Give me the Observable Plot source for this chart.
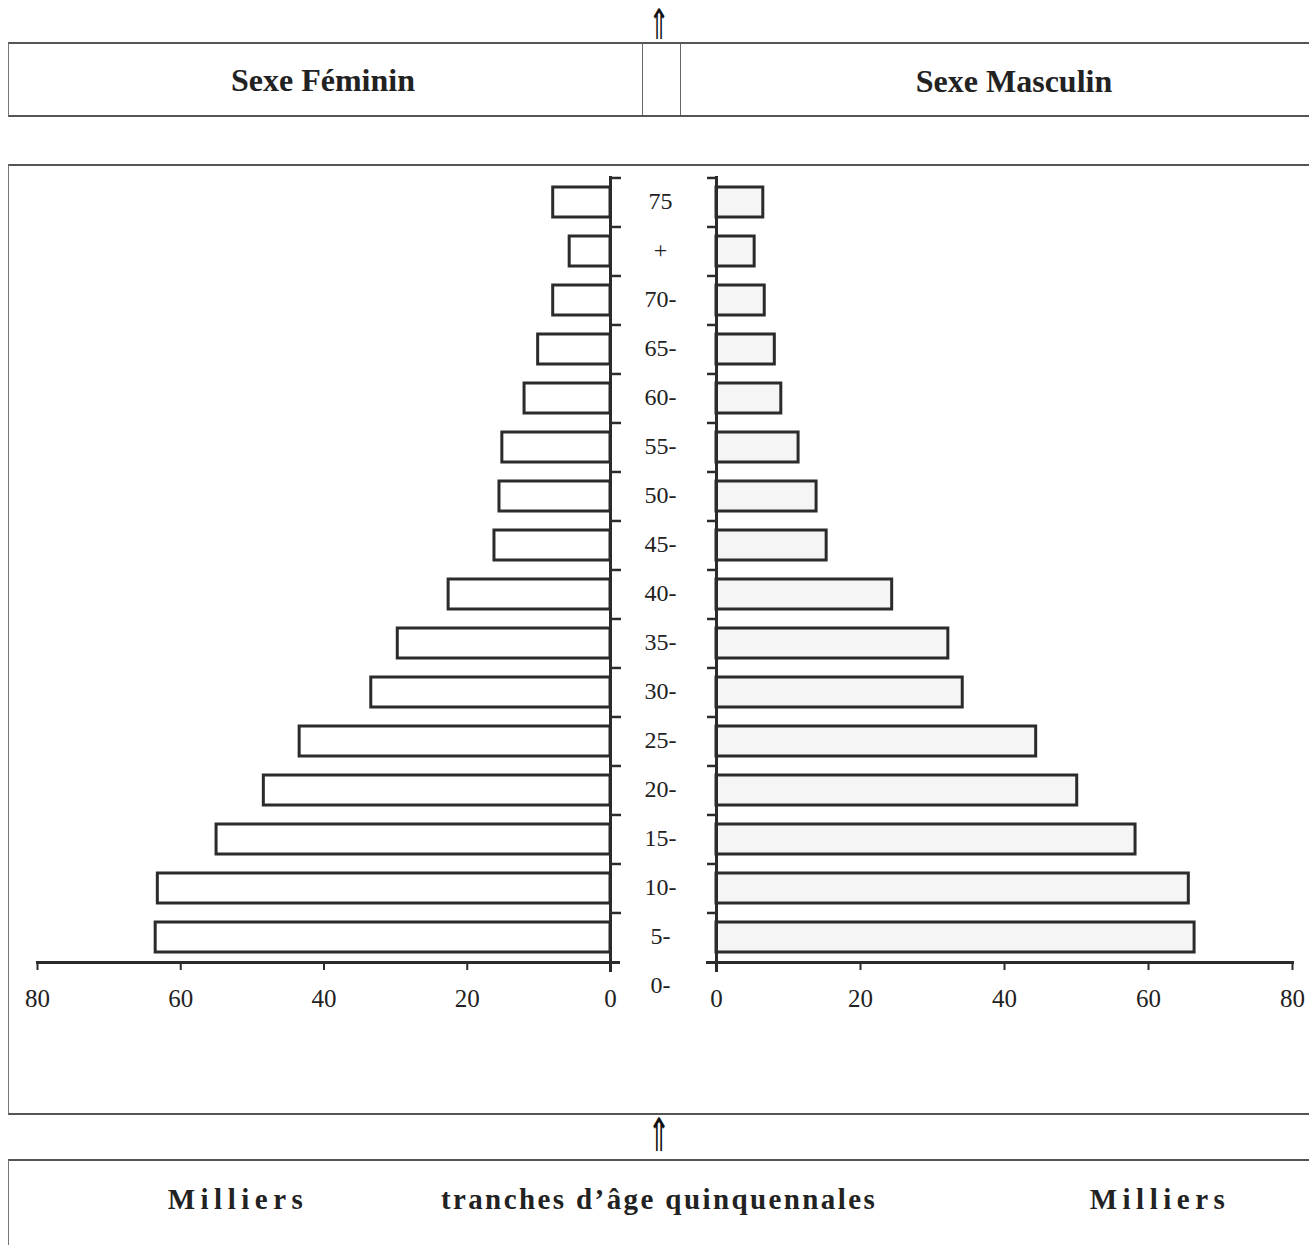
<!DOCTYPE html>
<html>
<head>
<meta charset="utf-8">
<script src="https://cdn.jsdelivr.net/npm/d3@7"></script>
<script src="https://cdn.jsdelivr.net/npm/@observablehq/plot@0.6"></script>
<style>
  html, body { margin: 0; padding: 0; background: #fff; }
  #root { position: relative; width: 1309px; height: 1245px; overflow: hidden; font-family: "Liberation Serif", "DejaVu Serif", serif; color: #222; }
  .box { position: absolute; box-sizing: border-box; border-top: 2px solid #555; border-bottom: 2px solid #555; border-left: 1px solid #777; }
  .vline { position: absolute; width: 0; border-left: 1px solid #666; }
  .lbl { position: absolute; transform: translate(-50%, -50%); white-space: nowrap; font-weight: bold; }
  .arrow { position: absolute; transform: translate(-50%, -50%) scaleX(0.6); font-family: "DejaVu Sans", sans-serif; color: #111; line-height: 1; }
  .abs { position: absolute; left: 0; top: 0; }
</style>
</head>
<body>
<div id="root">
  <div class="arrow" style="left:659px; top:25px; font-size:42px;">⇑</div>
  <div class="box" style="left:8px; top:42px; width:1340px; height:75px;"></div>
  <div class="vline" style="left:642px; top:43px; height:72px;"></div>
  <div class="vline" style="left:680px; top:43px; height:72px;"></div>
  <div class="lbl" id="tF" style="left:323px; top:80px; font-size:32px;"></div>
  <div class="lbl" id="tM" style="left:1014px; top:81px; font-size:32px;"></div>

  <div class="box" style="left:8px; top:164px; width:1340px; height:951px;"></div>

  <div class="arrow" style="left:659px; top:1135px; font-size:46px;">⇑</div>
  <div class="box" style="left:8px; top:1159px; width:1340px; height:200px; border-bottom:none;"></div>
  <div class="lbl" id="bL" style="left:238px; top:1199px; font-size:29px; letter-spacing:5.5px;"></div>
  <div class="lbl" id="bC" style="left:659px; top:1199px; font-size:29px; letter-spacing:2.4px;"></div>
  <div class="lbl" id="bR" style="left:1160px; top:1199px; font-size:29px; letter-spacing:5.5px;"></div>

  <div class="abs" id="left"></div>
  <div class="abs" id="center" style="left:610px;"></div>
  <div class="abs" id="right" style="left:680px;"></div>
</div>
<script>
// ---- data ----
const ageGroups = ["75+", "70-", "65-", "60-", "55-", "50-", "45-", "40-", "35-", "30-", "25-", "20-", "15-", "10-", "5-", "0-"];
const female = [8.0, 5.7, 8.0, 10.1, 12.0, 15.1, 15.5, 16.2, 22.6, 29.7, 33.4, 43.4, 48.4, 55.0, 63.2, 63.5];
const male   = [6.5, 5.3, 6.7, 8.1, 9.0, 11.4, 13.9, 15.3, 24.4, 32.2, 34.2, 44.4, 50.1, 58.2, 65.6, 66.4];
const axisLabels = ["75", "+", "70-", "65-", "60-", "55-", "50-", "45-", "40-", "35-", "30-", "25-", "20-", "15-", "10-", "5-", "0-"];
const xTicks = [0, 20, 40, 60, 80];
const headerLeft = "Sexe Féminin";
const headerRight = "Sexe Masculin";
const unitLabel = "Milliers";
const ageAxisTitle = "tranches d’âge quinquennales";

document.getElementById("tF").textContent = headerLeft;
document.getElementById("tM").textContent = headerRight;
document.getElementById("bL").textContent = unitLabel;
document.getElementById("bR").textContent = unitLabel;
document.getElementById("bC").textContent = ageAxisTitle;

const femaleRows = ageGroups.map((a, i) => ({age: a, value: female[i]}));
const maleRows = ageGroups.map((a, i) => ({age: a, value: male[i]}));

const ink = "#2b2b2b";
const font = "Liberation Serif";
const common = {
  marginTop: 177,
  marginBottom: 80,
  height: 1042,
  style: {fontFamily: font, fontSize: "25px", color: "#222", background: "transparent", overflow: "visible"}
};
const yScale = {type: "band", domain: ageGroups, paddingInner: 0.39, paddingOuter: 0.195};
const halfStep = (962 - 177) / ageGroups.length / 2;

const leftPlot = Plot.plot({
  ...common,
  width: 640,
  marginLeft: 37,
  marginRight: 30,
  x: {domain: [80, 0], label: null},
  y: yScale,
  marks: [
    Plot.barX(femaleRows, {x: "value", y: "age", fill: "white", stroke: ink, strokeWidth: 3}),
    Plot.frame({anchor: "bottom", insetRight: -8, stroke: ink, strokeWidth: 3}),
    Plot.frame({anchor: "right", insetBottom: -8, stroke: ink, strokeWidth: 3}),
    Plot.axisX({ticks: xTicks, tickSize: 8, tickPadding: 19, fontSize: 25, strokeWidth: 2, stroke: ink, label: null}),
    Plot.axisY({anchor: "right", tickSize: 10, strokeWidth: 2.5, stroke: ink, tickFormat: () => "", dy: -halfStep, label: null})
  ]
});
document.getElementById("left").appendChild(leftPlot);

const rightPlot = Plot.plot({
  ...common,
  width: 629,
  marginLeft: 36,
  marginRight: 17,
  x: {domain: [0, 80], label: null},
  y: yScale,
  marks: [
    Plot.barX(maleRows, {x: "value", y: "age", fill: "#f5f5f5", stroke: ink, strokeWidth: 3}),
    Plot.frame({anchor: "bottom", insetLeft: -9, stroke: ink, strokeWidth: 3}),
    Plot.frame({anchor: "left", insetBottom: -8, stroke: ink, strokeWidth: 3}),
    Plot.axisX({ticks: xTicks, tickSize: 8, tickPadding: 19, fontSize: 25, strokeWidth: 2, stroke: ink, label: null}),
    Plot.axisY({anchor: "left", tickSize: 9, strokeWidth: 2.5, stroke: ink, tickFormat: () => "", dy: -halfStep, label: null})
  ]
});
document.getElementById("right").appendChild(rightPlot);

const centerPlot = Plot.plot({
  width: 106,
  height: 1032,
  marginTop: 172,
  marginBottom: 20,
  marginLeft: 0,
  marginRight: 6,
  style: {fontFamily: font, fontSize: "24px", color: "#222", background: "transparent", overflow: "visible"},
  y: {type: "band", domain: axisLabels, padding: 0, axis: null},
  marks: [
    Plot.text(axisLabels, {y: d => d, text: d => d, frameAnchor: "middle", fontSize: 24, fill: "#222"})
  ]
});
document.getElementById("center").appendChild(centerPlot);
</script>
</body>
</html>
